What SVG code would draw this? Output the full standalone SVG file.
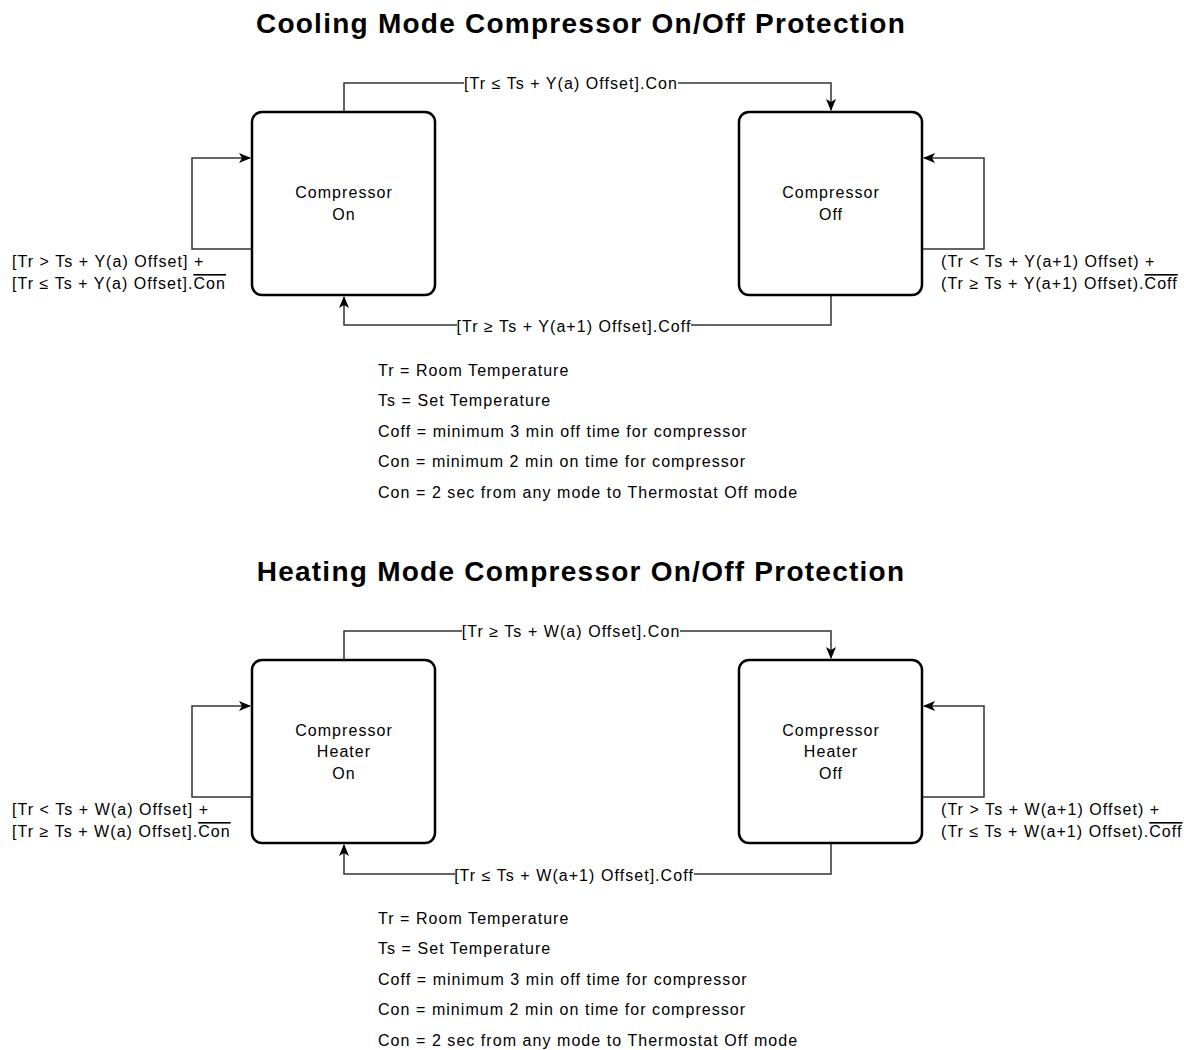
<svg xmlns="http://www.w3.org/2000/svg" width="1184" height="1050" viewBox="0 0 1184 1050">
<defs>
<style>
text{font-family:"Liberation Sans",Arial,sans-serif;fill:#000}
.title{font-size:28px;font-weight:bold;text-anchor:middle;letter-spacing:1.25px}
.t{font-size:16px;letter-spacing:1.05px}
.c{text-anchor:middle}
.box{fill:#fff;stroke:#000;stroke-width:2.5}
.e{fill:none;stroke:#333;stroke-width:1.5}
.ov{text-decoration:overline}
</style>
<marker id="ar" viewBox="0 0 12 10" refX="11" refY="5" markerWidth="12" markerHeight="10" markerUnits="userSpaceOnUse" orient="auto">
<path d="M0,0 L12,5 L0,10 L3,5 Z" fill="#000"/>
</marker>
</defs>
<rect width="1184" height="1050" fill="#fff"/>

<text class="title" x="581" y="33">Cooling Mode Compressor On/Off Protection</text>
<text class="title" x="581" y="581">Heating Mode Compressor On/Off Protection</text>

<g id="connectors">
<!-- cooling -->
<path class="e" d="M344,111 V83 H464"/>
<path class="e" d="M678,83 H831 V110" marker-end="url(#ar)"/>
<path class="e" d="M831,296 V325 H691"/>
<path class="e" d="M457,325 H344 V297" marker-end="url(#ar)"/>
<path class="e" d="M251,249 H192 V158 H250" marker-end="url(#ar)"/>
<path class="e" d="M923,249 H984 V158 H924" marker-end="url(#ar)"/>
<!-- heating -->
<path class="e" d="M344,659 V631 H462"/>
<path class="e" d="M680,631 H831 V658" marker-end="url(#ar)"/>
<path class="e" d="M831,844 V874 H694"/>
<path class="e" d="M455,874 H344 V845" marker-end="url(#ar)"/>
<path class="e" d="M251,797 H192 V706 H250" marker-end="url(#ar)"/>
<path class="e" d="M923,797 H984 V706 H924" marker-end="url(#ar)"/>

<text class="t c" x="571" y="89">[Tr ≤ Ts + Y(a) Offset].Con</text>
<text class="t c" x="574" y="332">[Tr ≥ Ts + Y(a+1) Offset].Coff</text>
<text class="t" x="12" y="267">[Tr &gt; Ts + Y(a) Offset]  +</text>
<text class="t" x="12" y="289">[Tr ≤ Ts + Y(a) Offset].<tspan class="ov">Con</tspan></text>
<text class="t" x="941" y="267">(Tr &lt; Ts + Y(a+1) Offset) +</text>
<text class="t" x="941" y="289">(Tr ≥ Ts + Y(a+1) Offset).<tspan class="ov">Coff</tspan></text>

<text class="t c" x="571" y="637">[Tr ≥ Ts + W(a) Offset].Con</text>
<text class="t c" x="574" y="881">[Tr ≤ Ts + W(a+1) Offset].Coff</text>
<text class="t" x="12" y="815">[Tr &lt; Ts + W(a) Offset] +</text>
<text class="t" x="12" y="837">[Tr ≥ Ts + W(a) Offset].<tspan class="ov">Con</tspan></text>
<text class="t" x="941" y="815">(Tr &gt; Ts + W(a+1) Offset) +</text>
<text class="t" x="941" y="837">(Tr ≤ Ts + W(a+1) Offset).<tspan class="ov">Coff</tspan></text>
</g>

<g id="cool-on">
<rect class="box" x="252" y="112" width="183" height="183" rx="10"/>
<text class="t c" x="344" y="198">Compressor</text>
<text class="t c" x="344" y="220">On</text>
</g>
<g id="cool-off">
<rect class="box" x="739" y="112" width="183" height="183" rx="10"/>
<text class="t c" x="831" y="198">Compressor</text>
<text class="t c" x="831" y="220">Off</text>
</g>
<g id="heat-on">
<rect class="box" x="252" y="660" width="183" height="183" rx="10"/>
<text class="t c" x="344" y="736">Compressor</text>
<text class="t c" x="344" y="757">Heater</text>
<text class="t c" x="344" y="779">On</text>
</g>
<g id="heat-off">
<rect class="box" x="739" y="660" width="183" height="183" rx="10"/>
<text class="t c" x="831" y="736">Compressor</text>
<text class="t c" x="831" y="757">Heater</text>
<text class="t c" x="831" y="779">Off</text>
</g>

<g id="legend-cool">
<text class="t" x="378" y="376">Tr = Room Temperature</text>
<text class="t" x="378" y="406">Ts = Set Temperature</text>
<text class="t" x="378" y="437">Coff = minimum 3 min off time for compressor</text>
<text class="t" x="378" y="467">Con = minimum 2 min on time for compressor</text>
<text class="t" x="378" y="498">Con = 2 sec from any mode to Thermostat Off mode</text>
</g>
<g id="legend-heat">
<text class="t" x="378" y="924">Tr = Room Temperature</text>
<text class="t" x="378" y="954">Ts = Set Temperature</text>
<text class="t" x="378" y="985">Coff = minimum 3 min off time for compressor</text>
<text class="t" x="378" y="1015">Con = minimum 2 min on time for compressor</text>
<text class="t" x="378" y="1046">Con = 2 sec from any mode to Thermostat Off mode</text>
</g>
</svg>
